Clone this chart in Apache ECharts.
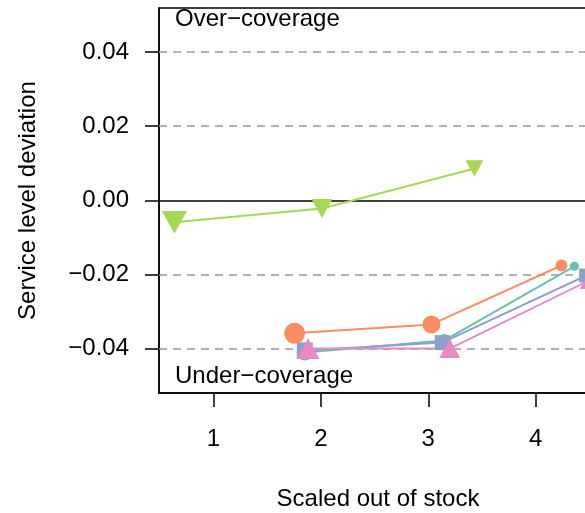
<!DOCTYPE html>
<html>
<head>
<meta charset="utf-8">
<script src="https://cdn.jsdelivr.net/npm/echarts@6/dist/echarts.min.js"></script>
<style>
html,body{margin:0;padding:0;background:#fff;}
#chart{width:585px;height:513px;}
</style>
</head>
<body>
<div id="chart"></div>
<script>
// ---- data ----
var xTicks = [1, 2, 3, 4];
var yTicks = [-0.04, -0.02, 0, 0.02, 0.04];
var tealX = [1.85, 3.15, 4.36];
var tealY = [-0.0411, -0.0378, -0.0178];
var orangeX = [1.755, 3.03, 4.24];
var orangeY = [-0.0359, -0.0335, -0.0176];
var blueX = [1.85, 3.13, 4.47];
var blueY = [-0.0405, -0.0384, -0.0203];
var pinkX = [1.88, 3.20, 4.50];
var pinkY = [-0.0400, -0.0400, -0.0216];
var greenX = [0.636, 2.01, 3.43];
var greenY = [-0.0059, -0.0022, 0.0086];
var xTitle = 'Scaled out of stock';
var yTitle = 'Service level deviation';
var topNote = 'Over\u2212coverage';
var bottomNote = 'Under\u2212coverage';

// ---- styles ----
var tealSize = [16, 13, 9];
var orangeSize = [21, 18, 12];
var blueSize = [16, 15, 14];
var pinkSize = [23, 21, 19];
var greenSize = [25, 21, 18];
var FONT = 'Liberation Sans';

function pairs(xs, ys) { return xs.map(function (x, i) { return [x, ys[i]]; }); }

function lineSeries(name, xs, ys, color, symbol, sizes, rot) {
  return {
    name: name, type: 'line', data: pairs(xs, ys),
    symbol: symbol, symbolRotate: rot || 0,
    symbolSize: function (v, p) {
      var s = sizes[p.dataIndex];
      return symbol === 'triangle' ? [s, s * 0.9] : s;
    },
    showAllSymbol: true,
    lineStyle: { color: color, width: 2 },
    itemStyle: { color: color, borderWidth: 0 },
    emphasis: { disabled: true },
    animation: false,
    z: 5
  };
}

var chart = echarts.init(document.getElementById('chart'), null, { renderer: 'canvas' });

var refLines = yTicks.map(function (v) {
  return {
    yAxis: v,
    lineStyle: v === 0 ? { color: '#000', type: 'solid', width: 1.5 } : { color: '#999', type: [8, 6], width: 1.5 }
  };
});

var series = [
  {
    type: 'line', data: [], silent: true, animation: false, z: 2,
    markLine: { silent: true, symbol: ['none', 'none'], label: { show: false }, animation: false, data: refLines }
  },
  lineSeries('teal', tealX, tealY, '#66c2a5', 'circle', tealSize),
  lineSeries('orange', orangeX, orangeY, '#fc8d62', 'circle', orangeSize),
  lineSeries('blue', blueX, blueY, '#8da0cb', 'rect', blueSize),
  lineSeries('pink', pinkX, pinkY, '#e78ac3', 'triangle', pinkSize),
  lineSeries('green', greenX, greenY, '#a6d854', 'triangle', greenSize, 180)
];

chart.setOption({
  animation: false,
  grid: { left: 159, top: 8, width: 438, height: 385, containLabel: false, outerBoundsMode: 'none', show: true, borderColor: '#000', borderWidth: 1.5, backgroundColor: 'transparent' },
  xAxis: {
    type: 'value', min: 0.4925, max: 4.571,
    name: xTitle, nameLocation: 'middle', nameGap: 94,
    nameTextStyle: { fontFamily: FONT, fontSize: 24, color: '#000' },
    axisLine: { show: true, onZero: false, lineStyle: { color: '#000', width: 1.5 } },
    axisTick: { show: true, length: 14, inside: false, customValues: xTicks, lineStyle: { color: '#000', width: 1.5 } },
    axisLabel: { customValues: xTicks, margin: 34, fontFamily: FONT, fontSize: 24, color: '#000' },
    splitLine: { show: false }
  },
  yAxis: {
    type: 'value', min: -0.052, max: 0.0519,
    name: yTitle, nameLocation: 'middle', nameGap: 119, nameRotate: 90,
    nameTextStyle: { fontFamily: FONT, fontSize: 24, color: '#000' },
    axisLine: { show: true, onZero: false, lineStyle: { color: '#000', width: 1.5 } },
    axisTick: { show: true, length: 14, inside: false, customValues: yTicks, lineStyle: { color: '#000', width: 1.5 } },
    axisLabel: {
      customValues: yTicks, margin: 30, fontFamily: FONT, fontSize: 24, color: '#000',
      formatter: function (v) { var a = Math.abs(v) < 1e-9 ? 0 : v; return (a < 0 ? '\u2212' : '') + Math.abs(a).toFixed(2); }
    },
    splitLine: { show: false }
  },
  graphic: [
    { type: 'text', left: 175, top: 7, z: 10, style: { text: topNote, font: '24px "Liberation Sans"', fill: '#000' } },
    { type: 'text', left: 175, top: 364, z: 10, style: { text: bottomNote, font: '24px "Liberation Sans"', fill: '#000' } }
  ],
  series: series
});
</script>
</body>
</html>
